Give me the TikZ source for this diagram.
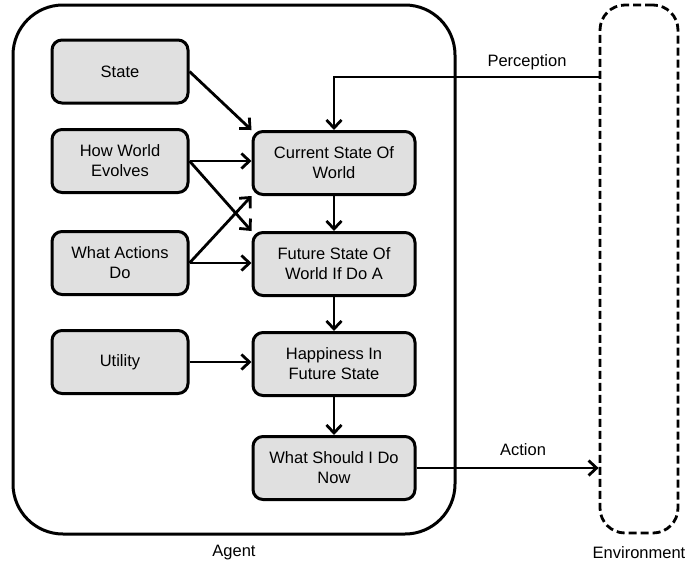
\documentclass[tikz,border=0pt]{standalone}
\usepackage{fontspec}
\setmainfont{Liberation Sans}
\usetikzlibrary{arrows.meta}
\definecolor{boxfill}{RGB}{224,224,224}
\begin{document}
\begin{tikzpicture}[x=1pt,y=-1pt,
  font=\fontsize{16.5}{20}\selectfont,
  block/.style={draw=black, line width=3pt, fill=boxfill, rounded corners=10pt,
    align=center, inner sep=0pt, minimum height=63pt},
  lblock/.style={block, minimum width=136pt},
  rblock/.style={block, minimum width=162pt},
  arr/.style={draw=black, line width=2.8pt, -{Straight Barb[length=8pt,width=15pt,line width=2.8pt]}},
  lbl/.style={inner sep=0pt}]
\useasboundingbox (0,0) rectangle (686,563);

% containers
\node[draw=black, line width=3pt, rounded corners=50pt, minimum width=442pt,
  minimum height=529pt, inner sep=0pt] (agent) at (234,269.5) {};
\node[draw=black, line width=2.8pt, dash pattern=on 8pt off 4pt, rounded corners=25pt,
  minimum width=78pt, minimum height=528pt, inner sep=0pt] (env) at (639,269) {};

% knowledge boxes
\node[lblock] (state) at (120,71.5) {State};
\node[lblock] (how) at (120,161) {How World\\Evolves};
\node[lblock] (acts) at (120,263) {What Actions\\Do};
\node[lblock] (util) at (120,362) {Utility};

% reasoning chain
\node[rblock] (cur) at (334,163) {Current State Of\\World};
\node[rblock] (fut) at (334,264) {Future State Of\\World If Do A};
\node[rblock] (hap) at (334,364) {Happiness In\\Future State};
\node[rblock] (should) at (334,468) {What Should I Do\\Now};

% inputs to the chain
\draw[arr] (state.east) -- (cur.north west);
\draw[arr] (how.east) -- (how.east -| cur.west);
\draw[arr] (how.east) -- (fut.north west);
\draw[arr] (acts.east) -- (cur.south west);
\draw[arr] (acts.east) -- (acts.east -| fut.west);
\draw[arr] (util.east) -- (util.east -| hap.west);

% chain links
\draw[arr] (cur.south) -- (fut.north);
\draw[arr] (fut.south) -- (hap.north);
\draw[arr] (hap.south) -- (should.north);

% perception and action
\coordinate (penv) at (env.west |- 0,77);
\draw[arr] (penv) -| (cur.north);
\draw[arr] (should.east) -- (should.east -| env.west);

% labels
\node[lbl] (perc) at (527,62) {Perception};
\node[lbl] (act) at (523,450) {Action};
\node[lbl] (agentlbl) at (234,553) {Agent};
\node[lbl] (envlbl) at (639,553) {Environment};
\end{tikzpicture}
\end{document}
